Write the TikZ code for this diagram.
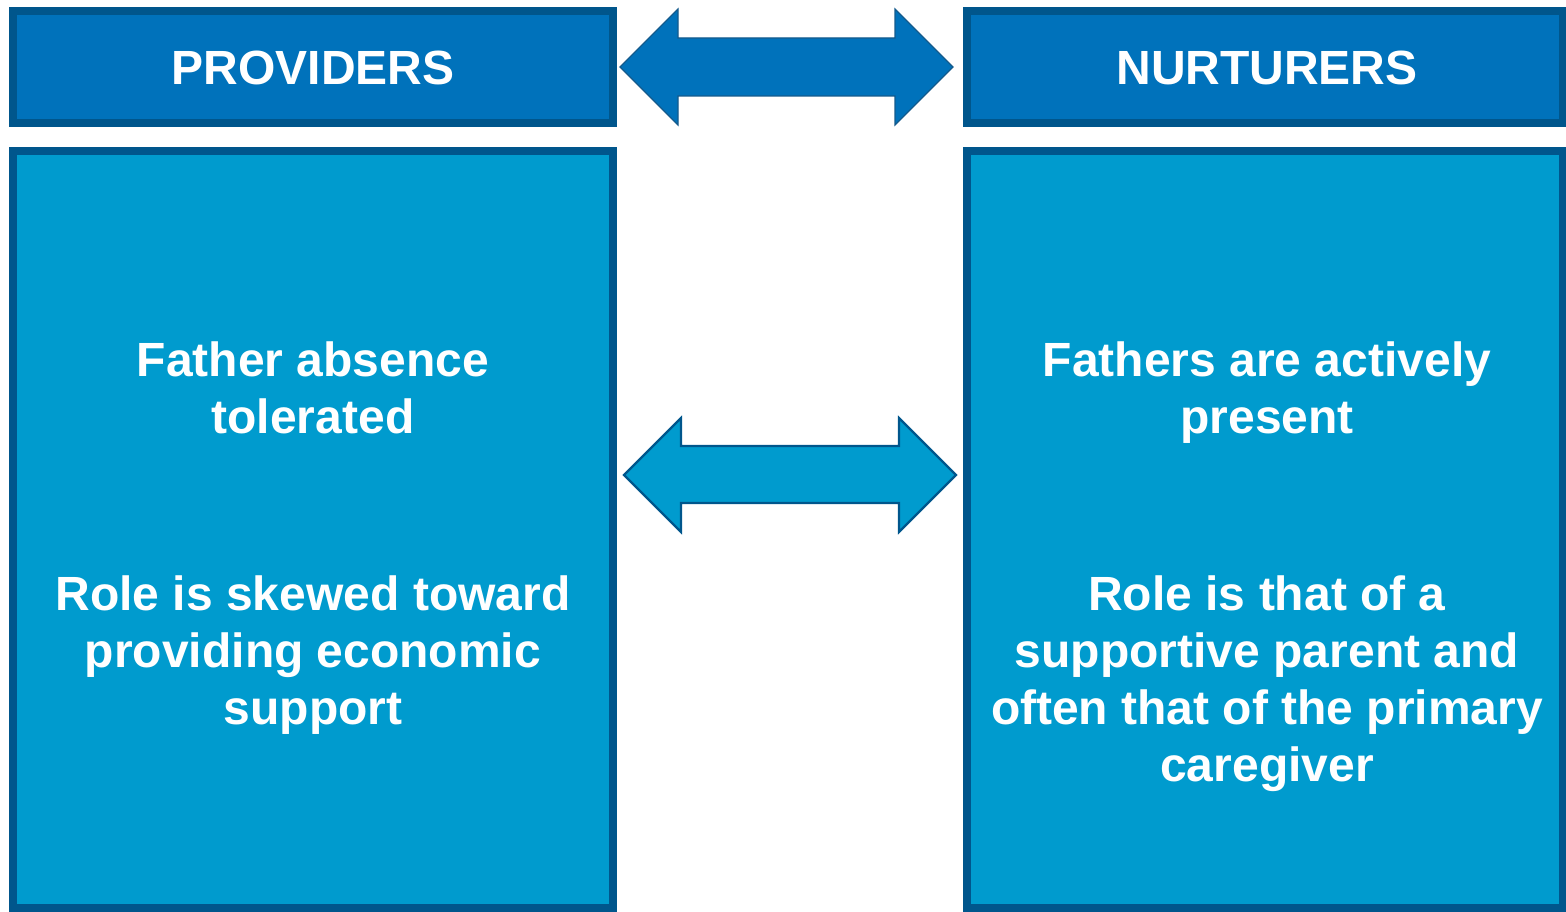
\documentclass[tikz,border=0pt]{standalone}
\usepackage{fontspec}
\setmainfont{Liberation Sans}
\definecolor{headfill}{RGB}{0,114,187}
\definecolor{bodyfill}{RGB}{0,155,206}
\definecolor{edgeblue}{RGB}{0,86,140}
\definecolor{arrowedge}{RGB}{20,90,140}
\begin{document}
\begin{tikzpicture}[x=1pt,y=-1pt,
  headbox/.style={draw=edgeblue,line width=8pt,fill=headfill,rectangle,inner sep=0pt,outer sep=0pt},
  bodybox/.style={draw=edgeblue,line width=8pt,fill=bodyfill,rectangle,inner sep=0pt,outer sep=0pt},
  txt/.style={text=white,font=\fontsize{48}{57.3}\selectfont\bfseries,inner sep=0pt,anchor=base},
  dblarrowtop/.style={fill=headfill,draw=arrowedge,line width=1.2pt,line join=miter},
  dblarrowbot/.style={fill=bodyfill,draw=edgeblue,line width=2.2pt,line join=miter}]
\useasboundingbox (0,0) rectangle (1566,912);
% boxes
\node[headbox,minimum width=600pt,minimum height=112pt] (prov) at (313,67) {};
\node[headbox,minimum width=596pt,minimum height=112pt] (nurt) at (1265,67) {};
\node[bodybox,minimum width=600pt,minimum height=757pt] (provbody) at (313,529.5) {};
\node[bodybox,minimum width=596pt,minimum height=757pt] (nurtbody) at (1265,529.5) {};
% titles
\node[txt] (provt) at (313,85) {PROVIDERS};
\node[txt] (nurtt) at (1267,85) {NURTURERS};
% left text
\node[txt] (l1) at (313,376) {Father absence};
\node[txt] (l2) at (313,433.3) {tolerated};
\node[txt] (l3) at (313,610) {Role is skewed toward};
\node[txt] (l4) at (313,667.3) {providing economic};
\node[txt] (l5) at (313,724.6) {support};
% right text
\node[txt] (r1) at (1267,376) {Fathers are actively};
\node[txt] (r2) at (1267,433.3) {present};
\node[txt] (r3) at (1267,610) {Role is that of a};
\node[txt] (r4) at (1267,667.3) {supportive parent and};
\node[txt] (r5) at (1267,724.6) {often that of the primary};
\node[txt] (r6) at (1267,781.9) {caregiver};
% top double arrow
\draw[dblarrowtop] (620,67) -- (678,9) -- (678,38) -- (895,38) -- (895,9) -- (953,67)
  -- (895,125) -- (895,96) -- (678,96) -- (678,125) -- cycle;
% bottom double arrow
\draw[dblarrowbot] (624,475) -- (681,418) -- (681,446) -- (899,446) -- (899,418) -- (956,475)
  -- (899,532) -- (899,503) -- (681,503) -- (681,532) -- cycle;
\end{tikzpicture}
\end{document}
